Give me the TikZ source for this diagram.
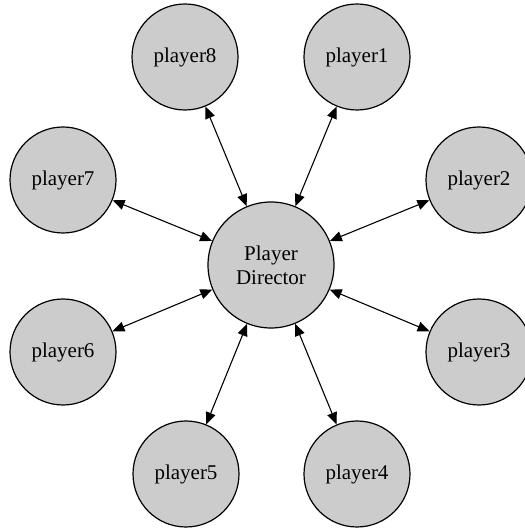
\documentclass[tikz,border=0pt]{standalone}
\usepackage{fontspec}
\setmainfont{Liberation Serif}
\usetikzlibrary{arrows.meta}
\definecolor{nodefill}{RGB}{204,204,204}
\begin{document}
\begin{tikzpicture}[x=1pt,y=1pt,
  pnode/.style={circle,draw=black,line width=1.2pt,fill=nodefill,minimum size=106pt,inner sep=0pt,font=\fontsize{21}{24}\selectfont},
  link/.style={line width=1.1pt,{Triangle[length=12pt,width=10pt]}-{Triangle[length=12pt,width=10pt]}}]
\useasboundingbox (0,0) rectangle (525,528);
\node[pnode,minimum size=126pt,align=center] (c) at (271,263) {Player\\Director};
\node[pnode] (p8) at (185,471) {player8};
\node[pnode] (p1) at (357,471) {player1};
\node[pnode] (p7) at (63,348) {player7};
\node[pnode] (p2) at (479,348) {player2};
\node[pnode] (p6) at (63,176) {player6};
\node[pnode] (p3) at (479,176) {player3};
\node[pnode] (p5) at (186,54) {player5};
\node[pnode] (p4) at (357,54) {player4};
\foreach \p in {p1,p2,p3,p4,p5,p6,p7,p8}{
  \draw[link] (c) -- (\p);
}
\end{tikzpicture}
\end{document}
